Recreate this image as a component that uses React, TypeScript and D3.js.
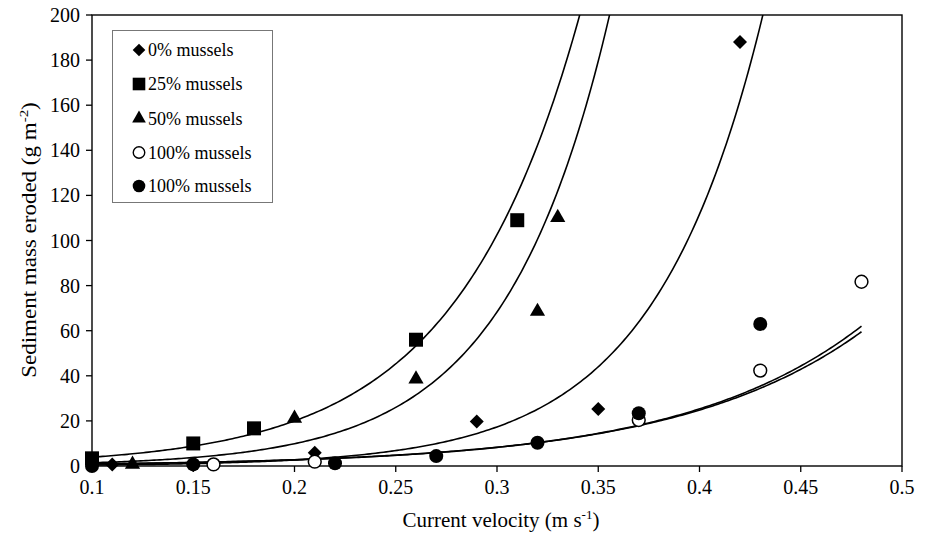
import React from 'react';
import * as d3 from 'd3';

const W = 928;
const H = 541;

// Series: velocity (m s^-1) and sediment mass eroded (g m^-2)
const seriesNames = ['0% mussels', '25% mussels', '50% mussels', '100% mussels', '100% mussels'];
const markerKinds = ['diamond', 'square', 'triangle', 'circleOpen', 'circleFilled'];

const vel0 = [0.11, 0.21, 0.29, 0.35, 0.42];
const mass0 = [0.7, 5.9, 19.7, 25.3, 188];
const vel25 = [0.1, 0.15, 0.18, 0.26, 0.31];
const mass25 = [3.4, 10, 16.7, 56, 109];
const vel50 = [0.12, 0.2, 0.26, 0.32, 0.33];
const mass50 = [1.2, 21.6, 39, 69, 110.6];
const vel100a = [0.16, 0.21, 0.37, 0.43, 0.48];
const mass100a = [0.7, 1.9, 20.4, 42.3, 81.7];
const vel100b = [0.1, 0.15, 0.22, 0.27, 0.32, 0.37, 0.43];
const mass100b = [0, 0.7, 1.2, 4.4, 10.3, 23.4, 63];

// Exponential trendlines: mass = a * exp(b * velocity)
const fitA = [0.0648, 0.76, 0.207, 0.287, 0.312];
const fitB = [18.63, 16.35, 19.33, 11.2, 10.94];
const fitStart = [0.1, 0.1, 0.1, 0.1, 0.1];
const fitEnd = [0.5, 0.5, 0.5, 0.48, 0.48];

const xTicks = [0.1, 0.15, 0.2, 0.25, 0.3, 0.35, 0.4, 0.45, 0.5];
const xTickLabels = ['0.1', '0.15', '0.2', '0.25', '0.3', '0.35', '0.4', '0.45', '0.5'];
const yTicks = [0, 20, 40, 60, 80, 100, 120, 140, 160, 180, 200];

const FONT = '"Liberation Serif", "Times New Roman", Times, serif';

const PL = 92;
const PR = 902;
const PT = 15;
const PB = 466;

function markerPath(kind: string, scale = 1): { d: string; open: boolean } {
  const s = scale;
  if (kind === 'diamond') {
    const h = 7 * s;
    return { d: `M0,${-h}L${h},0L0,${h}L${-h},0Z`, open: false };
  }
  if (kind === 'square') {
    const h = 7 * s;
    return { d: `M${-h},${-h}H${h}V${h}H${-h}Z`, open: false };
  }
  if (kind === 'triangle') {
    return { d: d3.symbol(d3.symbolTriangle, 100 * s * s)() || '', open: false };
  }
  const r = (kind === 'circleOpen' ? 6.4 : 7) * s;
  return { d: d3.symbol(d3.symbolCircle, Math.PI * r * r)() || '', open: kind === 'circleOpen' };
}

export default function App() {
  const x = d3.scaleLinear().domain([0.1, 0.5]).range([PL, PR]);
  const y = d3.scaleLinear().domain([0, 200]).range([PB, PT]);

  const series = [
    { v: vel0, m: mass0 },
    { v: vel25, m: mass25 },
    { v: vel50, m: mass50 },
    { v: vel100a, m: mass100a },
    { v: vel100b, m: mass100b },
  ];

  const line = d3
    .line<[number, number]>()
    .x((d) => x(d[0]))
    .y((d) => y(d[1]));

  const curves = fitA.map((a, i) => {
    const pts: [number, number][] = [];
    const n = 300;
    for (let k = 0; k <= n; k++) {
      const v = fitStart[i] + ((fitEnd[i] - fitStart[i]) * k) / n;
      pts.push([v, Math.min(a * Math.exp(fitB[i] * v), 260)]);
    }
    return line(pts) || '';
  });

  const legendRows = [50, 84, 118.5, 152.5, 186];

  return (
    <svg
      width={W}
      height={H}
      viewBox={`0 0 ${W} ${H}`}
      style={{ position: 'absolute', left: 0, top: 0, background: '#fff' }}
      fontFamily={FONT}
    >
      <defs>
        <clipPath id="plotClip">
          <rect x={PL} y={PT} width={PR - PL} height={PB - PT} />
        </clipPath>
      </defs>
      <rect width={W} height={H} fill="#fff" />

      {/* trendlines */}
      <g clipPath="url(#plotClip)" fill="none" stroke="#000" strokeWidth={1.6}>
        {curves.map((d, i) => (
          <path key={i} d={d} />
        ))}
      </g>

      {/* plot frame */}
      <rect x={PL} y={PT} width={PR - PL} height={PB - PT} fill="none" stroke="#000" strokeWidth={1.4} />

      {/* y axis */}
      {yTicks.map((t) => (
        <g key={t}>
          <line x1={PL - 6} x2={PL} y1={y(t)} y2={y(t)} stroke="#000" strokeWidth={1.3} />
          <text x={PL - 12} y={y(t)} dy="0.35em" textAnchor="end" fontSize={20}>
            {t}
          </text>
        </g>
      ))}

      {/* x axis */}
      {xTicks.map((t, i) => (
        <g key={t}>
          <line x1={x(t)} x2={x(t)} y1={PB} y2={PB + 6} stroke="#000" strokeWidth={1.3} />
          <text x={x(t)} y={494} textAnchor="middle" fontSize={20}>
            {xTickLabels[i]}
          </text>
        </g>
      ))}

      <text x={501} y={527} textAnchor="middle" fontSize={21}>
        Current velocity (m s
        <tspan dy={-8} fontSize={13}>-1</tspan>
        <tspan dy={8}>)</tspan>
      </text>

      <text
        transform={`translate(36,${240}) rotate(-90) scale(1.15,1)`}
        textAnchor="middle"
        fontSize={20}
      >
        Sediment mass eroded (g m
        <tspan dy={-8} fontSize={13}>-2</tspan>
        <tspan dy={8}>)</tspan>
      </text>

      {/* data points */}
      {series.map((s, i) => {
        const mk = markerPath(markerKinds[i]);
        return (
          <g key={i}>
            {s.v.map((v, k) => (
              <path
                key={k}
                d={mk.d}
                transform={`translate(${x(v)},${y(s.m[k])})${markerKinds[i] === 'triangle' ? ' translate(0,1)' : ''}`}
                fill={mk.open ? '#fff' : '#000'}
                stroke="#000"
                strokeWidth={mk.open ? 1.5 : 0}
              />
            ))}
          </g>
        );
      })}

      {/* legend */}
      <g>
        <rect x={112.5} y={30.5} width={160} height={172} fill="#fff" stroke="#777" strokeWidth={1} />
        {seriesNames.map((name, i) => {
          const mk = markerPath(markerKinds[i], 0.9);
          return (
            <g key={i} transform={`translate(0,${legendRows[i]})`}>
              <path
                d={mk.d}
                transform="translate(139,0)"
                fill={mk.open ? '#fff' : '#000'}
                stroke="#000"
                strokeWidth={mk.open ? 1.4 : 0}
              />
              <text x={148} y={0} dy="0.35em" fontSize={18}>
                {name}
              </text>
            </g>
          );
        })}
      </g>
    </svg>
  );
}
